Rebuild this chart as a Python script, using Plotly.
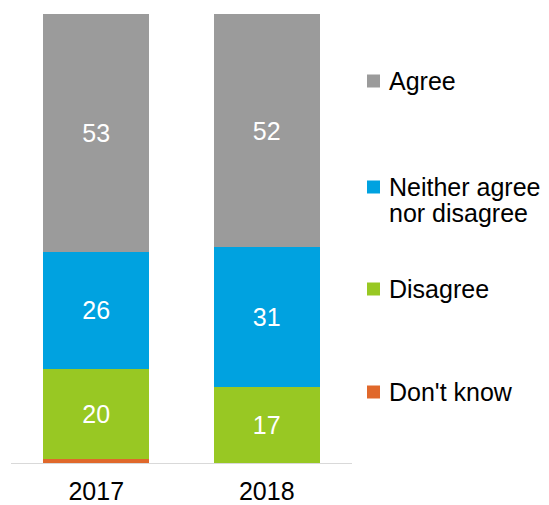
import plotly.graph_objects as go

# Survey responses by year (percent of respondents)
years = ["2017", "2018"]
series_names = ["Don't know", "Disagree", "Neither agree nor disagree", "Agree"]
legend_lines = [["Don't know"], ["Disagree"], ["Neither agree", "nor disagree"], ["Agree"]]
dont_know = [1, 0]
disagree = [20, 17]
neither = [26, 31]
agree = [53, 52]
colors = ["#E0682B", "#98C823", "#00A2E0", "#9B9B9B"]
show_labels = [False, True, True, True]

series_values = [dont_know, disagree, neither, agree]

FONT = "Liberation Sans, Arial, sans-serif"

fig = go.Figure()
for name, vals, color, lab in zip(series_names, series_values, colors, show_labels):
    fig.add_trace(go.Bar(
        x=years,
        y=vals,
        name=name,
        marker=dict(color=color, line=dict(width=0)),
        text=[str(v) for v in vals] if lab else None,
        textposition="inside" if lab else "none",
        insidetextanchor="middle",
        textangle=0,
        textfont=dict(color="white", size=25, family=FONT),
        showlegend=False,
        hoverinfo="x+y+name",
    ))

# Custom legend on the right: colour square + label lines
legend_y_px = [392, 289, 187, 81]  # vertical centres of legend squares (px from top)
line_step_px = 26
plot_top, plot_bottom = 14, 463
plot_left, plot_right = 11, 352
ph = plot_bottom - plot_top
pw = plot_right - plot_left
for lines, color, ypx in zip(legend_lines, colors, legend_y_px):
    yp = (plot_bottom - ypx) / ph
    fig.add_shape(
        type="rect", xref="paper", yref="paper",
        xsizemode="pixel", ysizemode="pixel",
        xanchor=(373.5 - plot_left) / pw, yanchor=yp,
        x0=-6.5, x1=6.5, y0=-6.5, y1=6.5,
        fillcolor=color, line=dict(width=0),
    )
    for i, line in enumerate(lines):
        fig.add_annotation(
            xref="paper", yref="paper",
            x=(387 - plot_left) / pw,
            y=yp - i * line_step_px / ph,
            xanchor="left", yanchor="middle",
            text=line, showarrow=False, align="left",
            font=dict(size=25, color="#000000", family=FONT),
        )

fig.update_layout(
    barmode="stack",
    bargap=0.378,
    width=549, height=505,
    margin=dict(l=plot_left, r=549 - plot_right, t=plot_top, b=505 - plot_bottom, pad=0),
    paper_bgcolor="white",
    plot_bgcolor="white",
    font=dict(family=FONT, size=25, color="#000000"),
    uniformtext=dict(minsize=25, mode="show"),
    xaxis=dict(
        showline=True, linecolor="#D9D9D9", linewidth=1,
        showgrid=False, zeroline=False,
        ticks="outside", ticklen=6, tickcolor="rgba(0,0,0,0)",
        tickfont=dict(size=25, color="#000000"),
        automargin=False, fixedrange=True,
    ),
    yaxis=dict(
        range=[0, 100], visible=False, showgrid=False, zeroline=False,
        automargin=False, fixedrange=True,
    ),
)

fig.write_html("out.html")
